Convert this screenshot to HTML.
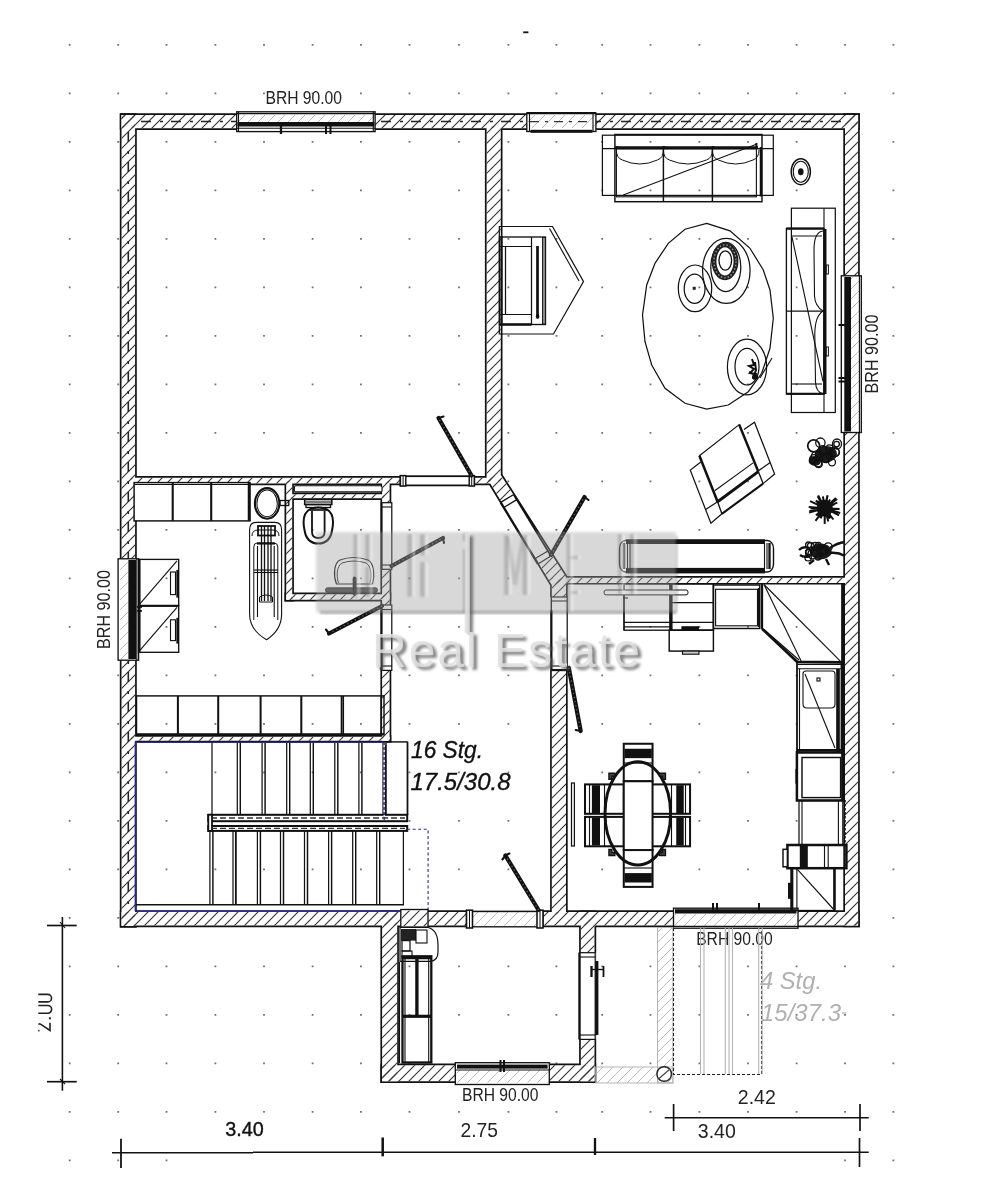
<!DOCTYPE html><html><head><meta charset="utf-8"><style>html,body{margin:0;padding:0;background:#fff;width:997px;height:1200px;overflow:hidden}svg{display:block;filter:blur(0.3px)}text{font-family:"Liberation Sans",sans-serif;filter:grayscale(1)}</style></head><body>
<svg width="997" height="1200" viewBox="0 0 997 1200">
<defs>
<pattern id="h" patternUnits="userSpaceOnUse" width="10" height="10"><path d="M-1,1 L1,-1 M0,10 L10,0 M9,11 L11,9" stroke="#333" stroke-width="1.1"/></pattern>
<pattern id="hl" patternUnits="userSpaceOnUse" width="10" height="10"><path d="M-1,1 L1,-1 M0,10 L10,0 M9,11 L11,9" stroke="#bbb" stroke-width="1"/></pattern>
<filter id="blur1" x="-10%" y="-10%" width="120%" height="140%"><feGaussianBlur stdDeviation="2.5"/></filter>
<filter id="soft" x="-5%" y="-5%" width="110%" height="110%"><feGaussianBlur stdDeviation="0.6"/></filter>
</defs>
<rect width="997" height="1200" fill="#fff"/>
<path d="M68.8,44.8h1.8M68.8,93.3h1.8M68.8,141.8h1.8M68.8,190.3h1.8M68.8,238.8h1.8M68.8,287.3h1.8M68.8,335.8h1.8M68.8,384.3h1.8M68.8,432.8h1.8M68.8,481.3h1.8M68.8,529.8h1.8M68.8,578.3h1.8M68.8,626.8h1.8M68.8,675.3h1.8M68.8,723.8h1.8M68.8,772.3h1.8M68.8,820.8h1.8M68.8,869.3h1.8M68.8,917.8h1.8M68.8,966.3h1.8M68.8,1014.8h1.8M68.8,1063.3h1.8M68.8,1111.8h1.8M68.8,1160.3h1.8M117.3,44.8h1.8M117.3,93.3h1.8M117.3,141.8h1.8M117.3,190.3h1.8M117.3,238.8h1.8M117.3,287.3h1.8M117.3,335.8h1.8M117.3,384.3h1.8M117.3,432.8h1.8M117.3,481.3h1.8M117.3,529.8h1.8M117.3,578.3h1.8M117.3,626.8h1.8M117.3,675.3h1.8M117.3,723.8h1.8M117.3,772.3h1.8M117.3,820.8h1.8M117.3,869.3h1.8M117.3,917.8h1.8M117.3,966.3h1.8M117.3,1014.8h1.8M117.3,1063.3h1.8M117.3,1111.8h1.8M117.3,1160.3h1.8M165.6,44.8h1.8M165.6,93.3h1.8M165.6,141.8h1.8M165.6,190.3h1.8M165.6,238.8h1.8M165.6,287.3h1.8M165.6,335.8h1.8M165.6,384.3h1.8M165.6,432.8h1.8M165.6,481.3h1.8M165.6,529.8h1.8M165.6,578.3h1.8M165.6,626.8h1.8M165.6,675.3h1.8M165.6,723.8h1.8M165.6,772.3h1.8M165.6,820.8h1.8M165.6,869.3h1.8M165.6,917.8h1.8M165.6,966.3h1.8M165.6,1014.8h1.8M165.6,1063.3h1.8M165.6,1111.8h1.8M165.6,1160.3h1.8M214.5,44.8h1.8M214.5,93.3h1.8M214.5,141.8h1.8M214.5,190.3h1.8M214.5,238.8h1.8M214.5,287.3h1.8M214.5,335.8h1.8M214.5,384.3h1.8M214.5,432.8h1.8M214.5,481.3h1.8M214.5,529.8h1.8M214.5,578.3h1.8M214.5,626.8h1.8M214.5,675.3h1.8M214.5,723.8h1.8M214.5,772.3h1.8M214.5,820.8h1.8M214.5,869.3h1.8M214.5,917.8h1.8M214.5,966.3h1.8M214.5,1014.8h1.8M214.5,1063.3h1.8M214.5,1111.8h1.8M263.1,44.8h1.8M263.1,93.3h1.8M263.1,141.8h1.8M263.1,190.3h1.8M263.1,238.8h1.8M263.1,287.3h1.8M263.1,335.8h1.8M263.1,384.3h1.8M263.1,432.8h1.8M263.1,481.3h1.8M263.1,529.8h1.8M263.1,578.3h1.8M263.1,626.8h1.8M263.1,675.3h1.8M263.1,723.8h1.8M263.1,772.3h1.8M263.1,820.8h1.8M263.1,869.3h1.8M263.1,917.8h1.8M263.1,966.3h1.8M263.1,1014.8h1.8M263.1,1063.3h1.8M263.1,1111.8h1.8M311.7,44.8h1.8M311.7,93.3h1.8M311.7,141.8h1.8M311.7,190.3h1.8M311.7,238.8h1.8M311.7,287.3h1.8M311.7,335.8h1.8M311.7,384.3h1.8M311.7,432.8h1.8M311.7,481.3h1.8M311.7,529.8h1.8M311.7,578.3h1.8M311.7,626.8h1.8M311.7,675.3h1.8M311.7,723.8h1.8M311.7,772.3h1.8M311.7,820.8h1.8M311.7,869.3h1.8M311.7,917.8h1.8M311.7,966.3h1.8M311.7,1014.8h1.8M311.7,1063.3h1.8M311.7,1111.8h1.8M360.0,44.8h1.8M360.0,93.3h1.8M360.0,141.8h1.8M360.0,190.3h1.8M360.0,238.8h1.8M360.0,287.3h1.8M360.0,335.8h1.8M360.0,384.3h1.8M360.0,432.8h1.8M360.0,481.3h1.8M360.0,529.8h1.8M360.0,578.3h1.8M360.0,626.8h1.8M360.0,675.3h1.8M360.0,723.8h1.8M360.0,772.3h1.8M360.0,820.8h1.8M360.0,869.3h1.8M360.0,917.8h1.8M360.0,966.3h1.8M360.0,1014.8h1.8M360.0,1063.3h1.8M360.0,1111.8h1.8M408.6,44.8h1.8M408.6,93.3h1.8M408.6,141.8h1.8M408.6,190.3h1.8M408.6,238.8h1.8M408.6,287.3h1.8M408.6,335.8h1.8M408.6,384.3h1.8M408.6,432.8h1.8M408.6,481.3h1.8M408.6,529.8h1.8M408.6,578.3h1.8M408.6,626.8h1.8M408.6,675.3h1.8M408.6,723.8h1.8M408.6,772.3h1.8M408.6,820.8h1.8M408.6,869.3h1.8M408.6,917.8h1.8M408.6,966.3h1.8M408.6,1014.8h1.8M408.6,1063.3h1.8M408.6,1111.8h1.8M458.1,44.8h1.8M458.1,93.3h1.8M458.1,141.8h1.8M458.1,190.3h1.8M458.1,238.8h1.8M458.1,287.3h1.8M458.1,335.8h1.8M458.1,384.3h1.8M458.1,432.8h1.8M458.1,481.3h1.8M458.1,529.8h1.8M458.1,578.3h1.8M458.1,626.8h1.8M458.1,675.3h1.8M458.1,723.8h1.8M458.1,772.3h1.8M458.1,820.8h1.8M458.1,869.3h1.8M458.1,917.8h1.8M458.1,966.3h1.8M458.1,1014.8h1.8M458.1,1063.3h1.8M458.1,1111.8h1.8M507.5,44.8h1.8M507.5,93.3h1.8M507.5,141.8h1.8M507.5,190.3h1.8M507.5,238.8h1.8M507.5,287.3h1.8M507.5,335.8h1.8M507.5,384.3h1.8M507.5,432.8h1.8M507.5,481.3h1.8M507.5,529.8h1.8M507.5,578.3h1.8M507.5,626.8h1.8M507.5,675.3h1.8M507.5,723.8h1.8M507.5,772.3h1.8M507.5,820.8h1.8M507.5,869.3h1.8M507.5,917.8h1.8M507.5,966.3h1.8M507.5,1014.8h1.8M507.5,1063.3h1.8M507.5,1111.8h1.8M555.5,44.8h1.8M555.5,93.3h1.8M555.5,141.8h1.8M555.5,190.3h1.8M555.5,238.8h1.8M555.5,287.3h1.8M555.5,335.8h1.8M555.5,384.3h1.8M555.5,432.8h1.8M555.5,481.3h1.8M555.5,529.8h1.8M555.5,578.3h1.8M555.5,626.8h1.8M555.5,675.3h1.8M555.5,723.8h1.8M555.5,772.3h1.8M555.5,820.8h1.8M555.5,869.3h1.8M555.5,917.8h1.8M555.5,966.3h1.8M555.5,1014.8h1.8M555.5,1063.3h1.8M555.5,1111.8h1.8M601.3,44.8h1.8M601.3,93.3h1.8M601.3,141.8h1.8M601.3,190.3h1.8M601.3,238.8h1.8M601.3,287.3h1.8M601.3,335.8h1.8M601.3,384.3h1.8M601.3,432.8h1.8M601.3,481.3h1.8M601.3,529.8h1.8M601.3,578.3h1.8M601.3,626.8h1.8M601.3,675.3h1.8M601.3,723.8h1.8M601.3,772.3h1.8M601.3,820.8h1.8M601.3,869.3h1.8M601.3,917.8h1.8M601.3,966.3h1.8M601.3,1014.8h1.8M601.3,1063.3h1.8M601.3,1111.8h1.8M649.6,44.8h1.8M649.6,93.3h1.8M649.6,141.8h1.8M649.6,190.3h1.8M649.6,238.8h1.8M649.6,287.3h1.8M649.6,335.8h1.8M649.6,384.3h1.8M649.6,432.8h1.8M649.6,481.3h1.8M649.6,529.8h1.8M649.6,578.3h1.8M649.6,626.8h1.8M649.6,675.3h1.8M649.6,723.8h1.8M649.6,772.3h1.8M649.6,820.8h1.8M649.6,869.3h1.8M649.6,917.8h1.8M649.6,966.3h1.8M649.6,1014.8h1.8M649.6,1063.3h1.8M649.6,1111.8h1.8M698.5,44.8h1.8M698.5,93.3h1.8M698.5,141.8h1.8M698.5,190.3h1.8M698.5,238.8h1.8M698.5,287.3h1.8M698.5,335.8h1.8M698.5,384.3h1.8M698.5,432.8h1.8M698.5,481.3h1.8M698.5,529.8h1.8M698.5,578.3h1.8M698.5,626.8h1.8M698.5,675.3h1.8M698.5,723.8h1.8M698.5,772.3h1.8M698.5,820.8h1.8M698.5,869.3h1.8M698.5,917.8h1.8M698.5,966.3h1.8M698.5,1014.8h1.8M698.5,1063.3h1.8M698.5,1111.8h1.8M747.1,44.8h1.8M747.1,93.3h1.8M747.1,141.8h1.8M747.1,190.3h1.8M747.1,238.8h1.8M747.1,287.3h1.8M747.1,335.8h1.8M747.1,384.3h1.8M747.1,432.8h1.8M747.1,481.3h1.8M747.1,529.8h1.8M747.1,578.3h1.8M747.1,626.8h1.8M747.1,675.3h1.8M747.1,723.8h1.8M747.1,772.3h1.8M747.1,820.8h1.8M747.1,869.3h1.8M747.1,917.8h1.8M747.1,966.3h1.8M747.1,1014.8h1.8M747.1,1063.3h1.8M747.1,1111.8h1.8M795.7,44.8h1.8M795.7,93.3h1.8M795.7,141.8h1.8M795.7,190.3h1.8M795.7,238.8h1.8M795.7,287.3h1.8M795.7,335.8h1.8M795.7,384.3h1.8M795.7,432.8h1.8M795.7,481.3h1.8M795.7,529.8h1.8M795.7,578.3h1.8M795.7,626.8h1.8M795.7,675.3h1.8M795.7,723.8h1.8M795.7,772.3h1.8M795.7,820.8h1.8M795.7,869.3h1.8M795.7,917.8h1.8M795.7,966.3h1.8M795.7,1014.8h1.8M795.7,1063.3h1.8M795.7,1111.8h1.8M844.1,44.8h1.8M844.1,93.3h1.8M844.1,141.8h1.8M844.1,190.3h1.8M844.1,238.8h1.8M844.1,287.3h1.8M844.1,335.8h1.8M844.1,384.3h1.8M844.1,432.8h1.8M844.1,481.3h1.8M844.1,529.8h1.8M844.1,578.3h1.8M844.1,626.8h1.8M844.1,675.3h1.8M844.1,723.8h1.8M844.1,772.3h1.8M844.1,820.8h1.8M844.1,869.3h1.8M844.1,917.8h1.8M844.1,966.3h1.8M844.1,1014.8h1.8M844.1,1063.3h1.8M844.1,1111.8h1.8M844.1,1160.3h1.8M892.5,44.8h1.8M892.5,93.3h1.8M892.5,141.8h1.8M892.5,190.3h1.8M892.5,238.8h1.8M892.5,287.3h1.8M892.5,335.8h1.8M892.5,384.3h1.8M892.5,432.8h1.8M892.5,481.3h1.8M892.5,529.8h1.8M892.5,578.3h1.8M892.5,626.8h1.8M892.5,675.3h1.8M892.5,723.8h1.8M892.5,772.3h1.8M892.5,820.8h1.8M892.5,869.3h1.8M892.5,917.8h1.8M892.5,966.3h1.8M892.5,1014.8h1.8M892.5,1063.3h1.8M892.5,1111.8h1.8M892.5,1160.3h1.8" stroke="#707070" stroke-width="1.8"/>
<g fill="none" stroke="#111" stroke-width="3.4" stroke-linejoin="miter">
<polygon points="121.5,115.0 858.1,115.0 858.1,128.2 121.5,128.2"/>
<polygon points="121.5,115.0 135.1,115.0 135.1,926.0 121.5,926.0"/>
<polygon points="845.0,115.0 858.1,115.0 858.1,925.5 845.0,925.5"/>
<polygon points="121.5,912.0 858.1,912.0 858.1,925.5 121.5,925.5"/>
<polygon points="382.1,912.2 397.2,912.2 397.2,1081.2 382.1,1081.2"/>
<polygon points="580.8,912.2 594.5,912.2 594.5,1081.2 580.8,1081.2"/>
<polygon points="382.1,1065.2 594.5,1065.2 594.5,1081.2 382.1,1081.2"/>
<polygon points="486.6,125.8 500.8,125.8 500.8,481.2 486.6,481.2"/>
<polygon points="130.8,477.8 491.2,477.8 491.2,483.6 130.8,483.6"/>
<polygon points="490.3,483.6 486.6,478.0 500.8,475.0 566.3,577.4 566.3,583.8 551.5,584.5"/>
<polygon points="551.8,577.8 849.2,577.8 849.2,582.9 551.8,582.9"/>
<polygon points="551.8,578.8 566.0,578.8 566.0,914.2 551.8,914.2"/>
<polygon points="286.2,480.8 292.2,480.8 292.2,599.8 286.2,599.8"/>
<polygon points="286.2,594.2 389.6,594.2 389.6,599.8 286.2,599.8"/>
<polygon points="290.8,494.2 384.2,494.2 384.2,498.2 290.8,498.2"/>
<polygon points="382.1,480.8 389.6,480.8 389.6,740.8 382.1,740.8"/>
<polygon points="130.8,736.8 389.6,736.8 389.6,740.8 130.8,740.8"/>
</g>
<g fill="#fff">
<polygon points="121.5,115.0 858.1,115.0 858.1,128.2 121.5,128.2"/>
<polygon points="121.5,115.0 135.1,115.0 135.1,926.0 121.5,926.0"/>
<polygon points="845.0,115.0 858.1,115.0 858.1,925.5 845.0,925.5"/>
<polygon points="121.5,912.0 858.1,912.0 858.1,925.5 121.5,925.5"/>
<polygon points="382.1,912.2 397.2,912.2 397.2,1081.2 382.1,1081.2"/>
<polygon points="580.8,912.2 594.5,912.2 594.5,1081.2 580.8,1081.2"/>
<polygon points="382.1,1065.2 594.5,1065.2 594.5,1081.2 382.1,1081.2"/>
<polygon points="486.6,125.8 500.8,125.8 500.8,481.2 486.6,481.2"/>
<polygon points="130.8,477.8 491.2,477.8 491.2,483.6 130.8,483.6"/>
<polygon points="490.3,483.6 486.6,478.0 500.8,475.0 566.3,577.4 566.3,583.8 551.5,584.5"/>
<polygon points="551.8,577.8 849.2,577.8 849.2,582.9 551.8,582.9"/>
<polygon points="551.8,578.8 566.0,578.8 566.0,914.2 551.8,914.2"/>
<polygon points="286.2,480.8 292.2,480.8 292.2,599.8 286.2,599.8"/>
<polygon points="286.2,594.2 389.6,594.2 389.6,599.8 286.2,599.8"/>
<polygon points="290.8,494.2 384.2,494.2 384.2,498.2 290.8,498.2"/>
<polygon points="382.1,480.8 389.6,480.8 389.6,740.8 382.1,740.8"/>
<polygon points="130.8,736.8 389.6,736.8 389.6,740.8 130.8,740.8"/>
</g>
<g fill="url(#h)">
<polygon points="121.5,115.0 858.1,115.0 858.1,128.2 121.5,128.2"/>
<polygon points="121.5,115.0 135.1,115.0 135.1,926.0 121.5,926.0"/>
<polygon points="845.0,115.0 858.1,115.0 858.1,925.5 845.0,925.5"/>
<polygon points="121.5,912.0 858.1,912.0 858.1,925.5 121.5,925.5"/>
<polygon points="382.1,912.2 397.2,912.2 397.2,1081.2 382.1,1081.2"/>
<polygon points="580.8,912.2 594.5,912.2 594.5,1081.2 580.8,1081.2"/>
<polygon points="382.1,1065.2 594.5,1065.2 594.5,1081.2 382.1,1081.2"/>
<polygon points="486.6,125.8 500.8,125.8 500.8,481.2 486.6,481.2"/>
<polygon points="130.8,477.8 491.2,477.8 491.2,483.6 130.8,483.6"/>
<polygon points="490.3,483.6 486.6,478.0 500.8,475.0 566.3,577.4 566.3,583.8 551.5,584.5"/>
<polygon points="551.8,577.8 849.2,577.8 849.2,582.9 551.8,582.9"/>
<polygon points="551.8,578.8 566.0,578.8 566.0,914.2 551.8,914.2"/>
<polygon points="286.2,480.8 292.2,480.8 292.2,599.8 286.2,599.8"/>
<polygon points="286.2,594.2 389.6,594.2 389.6,599.8 286.2,599.8"/>
<polygon points="290.8,494.2 384.2,494.2 384.2,498.2 290.8,498.2"/>
<polygon points="382.1,480.8 389.6,480.8 389.6,740.8 382.1,740.8"/>
<polygon points="130.8,736.8 389.6,736.8 389.6,740.8 130.8,740.8"/>
</g>
<line x1="137" y1="121.6" x2="843" y2="121.6" stroke="#222" stroke-width="1.46" stroke-dasharray="10 9 3 8" stroke-dashoffset="-4"/>
<line x1="128.3" y1="130" x2="128.3" y2="910" stroke="#222" stroke-width="1.57" stroke-dasharray="10 9 3 8" stroke-dashoffset="-2"/>
<rect x="236.7" y="111" width="138.40000000000003" height="22" fill="#fff"/>
<rect x="237" y="115" width="137.6" height="7" fill="url(#hl)"/>
<rect x="236.7" y="111.8" width="138.4" height="19.8" stroke="#111" stroke-width="1.34" fill="none" />
<line x1="236.7" y1="113.6" x2="375.1" y2="113.6" stroke="#111" stroke-width="1.34" />
<rect x="237.5" y="122" width="136.8" height="4.5" stroke="#111" stroke-width="0" fill="#111" />
<line x1="236.7" y1="128.2" x2="375.1" y2="128.2" stroke="#111" stroke-width="1.01" />
<line x1="281" y1="125" x2="281" y2="134" stroke="#111" stroke-width="2.31" />
<line x1="326" y1="125" x2="326" y2="134" stroke="#111" stroke-width="2.02" />
<line x1="330.5" y1="125" x2="330.5" y2="134" stroke="#111" stroke-width="2.02" />
<line x1="238.5" y1="111.8" x2="238.5" y2="131.6" stroke="#111" stroke-width="1.12" />
<line x1="373.3" y1="111.8" x2="373.3" y2="131.6" stroke="#111" stroke-width="1.12" />
<text x="265.5" y="103.7" font-size="18" fill="#222" text-anchor="start" textLength="76.5" lengthAdjust="spacingAndGlyphs">BRH 90.00</text>
<rect x="526.8" y="111" width="69.10000000000002" height="23" fill="#fff"/>
<rect x="528" y="115" width="67" height="13" fill="url(#hl)"/>
<rect x="526.8" y="113" width="69.1" height="18.5" stroke="#111" stroke-width="1.34" fill="none" />
<line x1="526.8" y1="113.2" x2="595.9" y2="113.2" stroke="#111" stroke-width="2.31" />
<line x1="530" y1="121.6" x2="593" y2="121.6" stroke="#333" stroke-width="1.34" stroke-dasharray="9 6 3 6"/>
<rect x="530.6" y="129.8" width="61.7" height="3.0" stroke="#111" stroke-width="0" fill="#111" />
<line x1="529.5" y1="113" x2="529.5" y2="131.5" stroke="#111" stroke-width="1.12" />
<line x1="593" y1="113" x2="593" y2="131.5" stroke="#111" stroke-width="1.12" />
<rect x="839" y="275.8" width="23" height="156.7" fill="#fff"/>
<rect x="851" y="277" width="8" height="154" fill="url(#hl)"/>
<rect x="841.3" y="275.8" width="20.0" height="156.7" stroke="#111" stroke-width="1.34" fill="none" />
<rect x="844.3" y="277" width="6.7" height="154.5" stroke="#111" stroke-width="0" fill="#111" />
<line x1="859.4" y1="275.8" x2="859.4" y2="432.5" stroke="#111" stroke-width="1.12" />
<line x1="838.5" y1="325" x2="845" y2="325" stroke="#111" stroke-width="2.1" />
<line x1="838.5" y1="378" x2="845" y2="378" stroke="#111" stroke-width="2.02" />
<line x1="838.5" y1="381.5" x2="845" y2="381.5" stroke="#111" stroke-width="2.02" />
<text font-size="18" fill="#222" transform="translate(878.3,393.5) rotate(-90)" textLength="79" lengthAdjust="spacingAndGlyphs">BRH 90.00</text>
<rect x="117" y="558.8" width="23" height="101.40000000000009" fill="#fff"/>
<rect x="120" y="560" width="8.4" height="99" fill="url(#hl)"/>
<rect x="118.1" y="558.8" width="20.5" height="101.4" stroke="#111" stroke-width="1.34" fill="none" />
<rect x="128.4" y="560" width="7.6" height="99.0" stroke="#111" stroke-width="0" fill="#111" />
<line x1="136.8" y1="558.8" x2="136.8" y2="660.2" stroke="#111" stroke-width="1.12" />
<line x1="137" y1="607" x2="142" y2="607" stroke="#111" stroke-width="1.68" />
<line x1="137" y1="611" x2="142" y2="611" stroke="#111" stroke-width="1.68" />
<text font-size="18" fill="#222" transform="translate(109.6,649) rotate(-90)" textLength="79" lengthAdjust="spacingAndGlyphs">BRH 90.00</text>
<rect x="673.5" y="906" width="124.5" height="24" fill="#fff"/>
<rect x="675" y="914" width="122" height="12" fill="url(#hl)"/>
<rect x="673.5" y="908.2" width="124.5" height="20.0" stroke="#111" stroke-width="1.34" fill="none" />
<rect x="675" y="909.2" width="121.5" height="4.3" stroke="#111" stroke-width="0" fill="#111" />
<line x1="673.5" y1="926.4" x2="798" y2="926.4" stroke="#111" stroke-width="1.12" />
<line x1="713" y1="903" x2="713" y2="911" stroke="#111" stroke-width="2.02" />
<line x1="717" y1="903" x2="717" y2="911" stroke="#111" stroke-width="2.02" />
<line x1="759" y1="903" x2="759" y2="911" stroke="#111" stroke-width="2.02" />
<text x="696.2" y="945" font-size="18" fill="#222" text-anchor="start" textLength="76.5" lengthAdjust="spacingAndGlyphs">BRH 90.00</text>
<rect x="455.3" y="1061" width="93.99999999999994" height="25" fill="#fff"/>
<rect x="456.5" y="1070" width="92" height="12.5" fill="url(#hl)"/>
<rect x="455.3" y="1062.7" width="94.0" height="21.8" stroke="#111" stroke-width="1.34" fill="none" />
<rect x="457" y="1064.6" width="90.6" height="4.0" stroke="#111" stroke-width="0" fill="#111" />
<line x1="455.3" y1="1070" x2="549.3" y2="1070" stroke="#111" stroke-width="1.01" />
<line x1="500.5" y1="1060" x2="500.5" y2="1072" stroke="#111" stroke-width="2.02" />
<line x1="504" y1="1060" x2="504" y2="1072" stroke="#111" stroke-width="2.02" />
<text x="462" y="1101" font-size="18" fill="#222" text-anchor="start" textLength="76.5" lengthAdjust="spacingAndGlyphs">BRH 90.00</text>
<rect x="400.4" y="475" width="73.90000000000003" height="11.5" fill="#fff"/>
<rect x="400.4" y="476.2" width="73.9" height="9.2" stroke="#111" stroke-width="1.79" fill="none" />
<rect x="400.4" y="475.6" width="5.4" height="10.4" stroke="#111" stroke-width="1.46" fill="#fff" />
<line x1="403.1" y1="475.6" x2="403.1" y2="486" stroke="#111" stroke-width="1.01" />
<rect x="469.2" y="475.6" width="5.1" height="10.4" stroke="#111" stroke-width="1.46" fill="#fff" />
<line x1="471.7" y1="475.6" x2="471.7" y2="486" stroke="#111" stroke-width="1.01" />
<line x1="471.5" y1="475.5" x2="438.5" y2="418" stroke="#111" stroke-width="4.2" stroke-linecap="round"/>
<line x1="471.5" y1="475.5" x2="438.5" y2="418" stroke="#666" stroke-width="1.34" stroke-dasharray="1.2 3"/>
<line x1="438.5" y1="418" x2="443.5" y2="416.5" stroke="#111" stroke-width="2.1" stroke-linecap="round"/>
<polygon points="500.7,502.4 538.0,563.9 551.0,556.0 513.7,494.5" stroke="#111" stroke-width="0" fill="#fff" />
<polyline points="500.2,501.5 538.5,564.8" stroke="#111" stroke-width="0" fill="none" />
<line x1="500.678" y1="502.35499999999996" x2="537.974" y2="563.915" stroke="#111" stroke-width="2.31" />
<line x1="513.674" y1="494.48139999999995" x2="550.97" y2="556.0414" stroke="#111" stroke-width="1.79" />
<line x1="500.678" y1="502.35499999999996" x2="513.674" y2="494.48139999999995" stroke="#111" stroke-width="1.23" />
<line x1="503.786" y1="507.48499999999996" x2="516.782" y2="499.61139999999995" stroke="#111" stroke-width="1.23" />
<line x1="534.866" y1="558.785" x2="547.862" y2="550.9114" stroke="#111" stroke-width="1.23" />
<line x1="537.974" y1="563.915" x2="550.97" y2="556.0414" stroke="#111" stroke-width="1.23" />
<line x1="550.97" y1="555.0414" x2="584.5" y2="497" stroke="#111" stroke-width="4.2" stroke-linecap="round"/>
<line x1="550.97" y1="555.0414" x2="584.5" y2="497" stroke="#666" stroke-width="1.34" stroke-dasharray="1.2 3"/>
<line x1="584.5" y1="497" x2="588.5" y2="500" stroke="#111" stroke-width="2.1" stroke-linecap="round"/>
<rect x="380.5" y="502.7" width="12.5" height="66.59999999999997" fill="#fff"/>
<rect x="381.5" y="502.7" width="10.3" height="66.6" stroke="#111" stroke-width="1.23" fill="none" />
<line x1="381.5" y1="502.7" x2="381.5" y2="569.3" stroke="#111" stroke-width="2.1" />
<line x1="381.5" y1="507" x2="391.8" y2="507" stroke="#111" stroke-width="1.12" />
<line x1="381.5" y1="565" x2="391.8" y2="565" stroke="#111" stroke-width="1.12" />
<line x1="391.5" y1="566" x2="443" y2="538" stroke="#111" stroke-width="4.2" stroke-linecap="round"/>
<line x1="391.5" y1="566" x2="443" y2="538" stroke="#666" stroke-width="1.34" stroke-dasharray="1.2 3"/>
<line x1="443" y1="538" x2="444" y2="543" stroke="#111" stroke-width="2.1" stroke-linecap="round"/>
<rect x="380.5" y="605" width="12.5" height="65.39999999999998" fill="#fff"/>
<rect x="381.5" y="605" width="10.3" height="65.4" stroke="#111" stroke-width="1.23" fill="none" />
<line x1="381.5" y1="605" x2="381.5" y2="670.4" stroke="#111" stroke-width="2.1" />
<line x1="381.5" y1="609.5" x2="391.8" y2="609.5" stroke="#111" stroke-width="1.12" />
<line x1="381.5" y1="666" x2="391.8" y2="666" stroke="#111" stroke-width="1.12" />
<line x1="382" y1="606" x2="329" y2="633.5" stroke="#111" stroke-width="4.2" stroke-linecap="round"/>
<line x1="382" y1="606" x2="329" y2="633.5" stroke="#666" stroke-width="1.34" stroke-dasharray="1.2 3"/>
<line x1="329" y1="633.5" x2="326" y2="629.5" stroke="#111" stroke-width="2.1" stroke-linecap="round"/>
<rect x="550.3" y="597" width="17.700000000000045" height="73.5" fill="#fff"/>
<rect x="551.4" y="597" width="15.8" height="73.5" stroke="#111" stroke-width="1.23" fill="none" />
<line x1="551.4" y1="610" x2="551.4" y2="670.5" stroke="#111" stroke-width="2.1" />
<line x1="551.4" y1="601" x2="567.2" y2="601" stroke="#111" stroke-width="1.12" />
<line x1="551.4" y1="666" x2="567.2" y2="666" stroke="#111" stroke-width="1.12" />
<line x1="551.4" y1="670" x2="567.2" y2="670" stroke="#111" stroke-width="2.1" />
<line x1="568.8" y1="668" x2="580.7" y2="731" stroke="#111" stroke-width="4.2" stroke-linecap="round"/>
<line x1="568.8" y1="668" x2="580.7" y2="731" stroke="#666" stroke-width="1.34" stroke-dasharray="1.2 3"/>
<line x1="580.7" y1="731" x2="575.7" y2="730" stroke="#111" stroke-width="2.1" stroke-linecap="round"/>
<rect x="466.5" y="910.3" width="76.5" height="17.700000000000045" fill="#fff"/>
<rect x="467" y="912" width="76" height="14.5" fill="url(#hl)"/>
<rect x="466.5" y="911.5" width="76.5" height="15.3" stroke="#111" stroke-width="1.34" fill="none" />
<rect x="466.5" y="910.2" width="6.0" height="17.8" stroke="#111" stroke-width="1.57" fill="#fff" />
<line x1="469.5" y1="910.2" x2="469.5" y2="928" stroke="#111" stroke-width="1.01" />
<rect x="537" y="910.2" width="6.0" height="17.8" stroke="#111" stroke-width="1.57" fill="#fff" />
<line x1="540" y1="910.2" x2="540" y2="928" stroke="#111" stroke-width="1.01" />
<line x1="538.5" y1="910" x2="505.4" y2="855.5" stroke="#111" stroke-width="4.2" stroke-linecap="round"/>
<line x1="538.5" y1="910" x2="505.4" y2="855.5" stroke="#666" stroke-width="1.34" stroke-dasharray="1.2 3"/>
<line x1="505.4" y1="855.5" x2="502.4" y2="859.5" stroke="#111" stroke-width="2.1" stroke-linecap="round"/>
<line x1="505.4" y1="855.5" x2="509.4" y2="853.5" stroke="#111" stroke-width="2.1" stroke-linecap="round"/>
<rect x="578.5" y="952.7" width="18.0" height="86.70000000000005" fill="#fff"/>
<rect x="579.5" y="952.7" width="15.7" height="86.7" stroke="#111" stroke-width="1.23" fill="none" />
<line x1="579.5" y1="952.7" x2="579.5" y2="1039.4" stroke="#111" stroke-width="2.31" />
<line x1="579.5" y1="957" x2="595.2" y2="957" stroke="#111" stroke-width="1.12" />
<line x1="579.5" y1="1035" x2="595.2" y2="1035" stroke="#111" stroke-width="1.12" />
<rect x="595.2" y="961" width="3.2" height="74.0" stroke="#111" stroke-width="0" fill="#111" />
<line x1="591.5" y1="966" x2="591.5" y2="977" stroke="#111" stroke-width="2.31" />
<line x1="603.5" y1="966" x2="603.5" y2="977" stroke="#111" stroke-width="1.79" />
<line x1="591.5" y1="969.5" x2="604" y2="969.5" stroke="#111" stroke-width="1.34" />
<rect x="602.4" y="135.2" width="170.9" height="60.2" stroke="#111" stroke-width="1.23" fill="none" />
<line x1="602.4" y1="148.7" x2="773.3" y2="148.7" stroke="#111" stroke-width="1.23" />
<rect x="614.9" y="134.5" width="147.1" height="67.2" stroke="#111" stroke-width="1.46" fill="none" />
<rect x="616.4" y="148.7" width="140.0" height="48.1" stroke="#111" stroke-width="1.12" fill="none" />
<line x1="614.9" y1="148.7" x2="762" y2="148.7" stroke="#111" stroke-width="1.12" />
<line x1="663.4" y1="148.7" x2="663.4" y2="201.7" stroke="#111" stroke-width="1.46" />
<line x1="712.4" y1="148.7" x2="712.4" y2="201.7" stroke="#111" stroke-width="1.46" />
<line x1="616" y1="147.4" x2="758" y2="147.4" stroke="#111" stroke-width="2.52" />
<path d="M616.4,150 Q616.4,158 622.4,160 Q639.9,168 657.4,160 Q663.4,158 663.4,150" stroke="#111" stroke-width="1" fill="none"/>
<path d="M663.4,150 Q663.4,158 669.4,160 Q687.9,168 706.4,160 Q712.4,158 712.4,150" stroke="#111" stroke-width="1" fill="none"/>
<path d="M712.4,150 Q712.4,158 718.4,160 Q735.7,168 753,160 Q759,158 759,150" stroke="#111" stroke-width="1" fill="none"/>
<ellipse cx="616.9" cy="147.6" rx="2.2" ry="1.6" stroke="#111" stroke-width="0" fill="#111" />
<ellipse cx="663.9" cy="147.6" rx="2.2" ry="1.6" stroke="#111" stroke-width="0" fill="#111" />
<ellipse cx="712.9" cy="147.6" rx="2.2" ry="1.6" stroke="#111" stroke-width="0" fill="#111" />
<line x1="623.2" y1="195" x2="756.4" y2="144.2" stroke="#111" stroke-width="1.12" />
<line x1="760.9" y1="147" x2="760.9" y2="196.5" stroke="#111" stroke-width="2.31" />
<line x1="756.4" y1="143" x2="756.4" y2="148" stroke="#111" stroke-width="2.1" />
<ellipse cx="800.8" cy="171.7" rx="9.6" ry="13" stroke="#111" stroke-width="1.46" fill="none" />
<ellipse cx="800.8" cy="171.7" rx="7.5" ry="10.5" stroke="#111" stroke-width="1.12" fill="none" />
<ellipse cx="800.8" cy="171.7" rx="2.8" ry="3.5" stroke="#111" stroke-width="0" fill="#111" />
<rect x="791.4" y="208.2" width="43.9" height="204.3" stroke="#111" stroke-width="1.23" fill="none" />
<line x1="824" y1="208.2" x2="824" y2="412.5" stroke="#111" stroke-width="1.12" />
<rect x="786.4" y="228.4" width="37.6" height="165.7" stroke="#111" stroke-width="1.34" fill="none" />
<line x1="786.4" y1="228.6" x2="824" y2="228.6" stroke="#111" stroke-width="2.31" />
<line x1="786.4" y1="393.8" x2="824" y2="393.8" stroke="#111" stroke-width="2.1" />
<line x1="786.4" y1="311.2" x2="824" y2="311.2" stroke="#111" stroke-width="1.23" />
<line x1="791.9" y1="236" x2="822" y2="236" stroke="#111" stroke-width="1.01" />
<line x1="791.9" y1="384" x2="822" y2="384" stroke="#111" stroke-width="1.12" />
<line x1="824.9" y1="229" x2="824.9" y2="394" stroke="#111" stroke-width="3.15" />
<path d="M823,231 Q814,232 814,250 L814.5,296 Q815,306 823,311 Q815,316 814.8,334 L815.5,382 Q816,392 822.5,393.5" stroke="#111" stroke-width="1.1" fill="none"/>
<line x1="791.9" y1="236.6" x2="823" y2="381.3" stroke="#111" stroke-width="1.12" />
<rect x="826.2" y="265" width="2.2" height="9.0" stroke="#111" stroke-width="1.01" fill="none" />
<rect x="826.2" y="347" width="2.2" height="9.0" stroke="#111" stroke-width="1.01" fill="none" />
<polygon points="499.3,226.5 552.5,226.5 583.5,281.5 553.5,334.0 499.3,334.0" stroke="#111" stroke-width="1.23" fill="none" />
<line x1="549.5" y1="228.5" x2="579" y2="281" stroke="#111" stroke-width="1.12" />
<rect x="499.5" y="237" width="46.0" height="87.5" stroke="#111" stroke-width="1.34" fill="none" />
<line x1="531.5" y1="237" x2="531.5" y2="324.5" stroke="#111" stroke-width="1.23" />
<line x1="499.5" y1="246.5" x2="531.5" y2="246.5" stroke="#111" stroke-width="1.23" />
<line x1="499.5" y1="314.5" x2="531.5" y2="314.5" stroke="#111" stroke-width="1.23" />
<line x1="505.5" y1="246.5" x2="505.5" y2="314.5" stroke="#111" stroke-width="1.23" />
<rect x="542.5" y="237.5" width="3.0" height="86.5" stroke="#111" stroke-width="0.9" fill="#888" />
<line x1="537.5" y1="246" x2="537.5" y2="316" stroke="#111" stroke-width="2.73" />
<ellipse cx="537.6" cy="316.5" rx="1.8" ry="2.4" stroke="#111" stroke-width="0" fill="#111" />
<line x1="499.5" y1="324.5" x2="531.5" y2="324.5" stroke="#111" stroke-width="2.31" />
<line x1="501.5" y1="236" x2="501.5" y2="326" stroke="#111" stroke-width="2.02" />
<polygon points="706.7,223.3 730.0,230.8 750.0,248.3 763.3,270.0 770.0,290.0 773.3,318.3 770.0,348.3 761.7,373.3 748.3,391.7 728.3,405.0 706.7,409.2 685.0,403.3 665.0,388.3 651.7,365.0 645.0,341.7 642.5,315.0 646.7,285.0 655.0,263.3 668.3,243.3 685.0,229.2" stroke="#111" stroke-width="1.23" fill="none" />
<ellipse cx="695" cy="288.3" rx="16.7" ry="23.3" stroke="#111" stroke-width="1.23" fill="none" />
<ellipse cx="694.6" cy="288.8" rx="10.4" ry="14.6" stroke="#111" stroke-width="1.23" fill="none" />
<rect x="692.7" y="286.8" width="3.0" height="3.0" stroke="#111" stroke-width="0" fill="#222" />
<ellipse cx="726.3" cy="270.8" rx="23.75" ry="32.5" stroke="#111" stroke-width="1.23" fill="none" />
<ellipse cx="725.8" cy="267" rx="15" ry="24.6" stroke="#111" stroke-width="1.23" fill="none" />
<ellipse cx="725" cy="261.3" rx="11" ry="16.5" stroke="#222" stroke-width="4.83" fill="none" />
<ellipse cx="725" cy="261.3" rx="11" ry="16.5" stroke="#999" stroke-width="1.34" fill="none" stroke-dasharray="1.5 2"/>
<ellipse cx="725.3" cy="260.5" rx="6.3" ry="9.6" stroke="#111" stroke-width="1.34" fill="none" />
<ellipse cx="747" cy="367" rx="19.6" ry="27.9" stroke="#111" stroke-width="1.23" fill="none" />
<ellipse cx="747" cy="366.7" rx="12" ry="18.3" stroke="#111" stroke-width="1.23" fill="none" />
<path d="M752,359 l2,6 l-5,1 l5,3 l-4,4 l6,1 l-3,5 M755,362 l1,8 l-2,6 M749,372 l4,2" stroke="#111" stroke-width="2" fill="none"/>
<ellipse cx="755" cy="377" rx="3" ry="2.8" stroke="#111" stroke-width="0" fill="#111" />
<line x1="760" y1="378" x2="772" y2="358" stroke="#111" stroke-width="1.12" />
<polyline points="700.8,462.0 690.3,470.1 710.9,523.3 721.9,513.8" stroke="#111" stroke-width="1.23" fill="none" />
<line x1="705.6" y1="509.4" x2="717.6" y2="501.8" stroke="#111" stroke-width="1.23" />
<polyline points="717.6,501.8 699.4,455.7 739.2,424.6 758.3,471.6" stroke="#111" stroke-width="1.12" fill="none" />
<line x1="699.4" y1="455.7" x2="717.6" y2="501.8" stroke="#111" stroke-width="2.52" />
<line x1="739.2" y1="424.6" x2="758.3" y2="471.6" stroke="#111" stroke-width="2.52" />
<line x1="717.6" y1="501.8" x2="721.9" y2="513.8" stroke="#111" stroke-width="1.34" />
<line x1="758.3" y1="471.6" x2="763.1" y2="483.6" stroke="#111" stroke-width="1.34" />
<line x1="714.7" y1="490.7" x2="753.1" y2="462.9" stroke="#111" stroke-width="1.12" />
<line x1="717.6" y1="501.8" x2="758.3" y2="471.6" stroke="#111" stroke-width="2.94" />
<line x1="721.9" y1="513.8" x2="763.1" y2="483.6" stroke="#111" stroke-width="2.1" />
<polyline points="744.0,429.4 754.5,422.2 774.6,474.0 763.1,483.6" stroke="#111" stroke-width="1.23" fill="none" />
<line x1="758.8" y1="470.6" x2="770.3" y2="462.5" stroke="#111" stroke-width="1.23" />
<ellipse cx="826" cy="454" rx="11" ry="8" stroke="#111" stroke-width="0" fill="#1a1a1a" />
<ellipse cx="815" cy="461" rx="6" ry="5" stroke="#111" stroke-width="0" fill="#1a1a1a" />
<circle cx="818.7" cy="454.0" r="3.4" stroke="#111" stroke-width="1.3" fill="none"/>
<circle cx="828.9" cy="455.8" r="2.7" stroke="#111" stroke-width="1.3" fill="none"/>
<circle cx="812.4" cy="460.4" r="3.1" stroke="#111" stroke-width="1.3" fill="none"/>
<circle cx="818.6" cy="463.9" r="3.7" stroke="#111" stroke-width="1.3" fill="none"/>
<circle cx="835.4" cy="452.5" r="4.1" stroke="#111" stroke-width="1.3" fill="none"/>
<circle cx="816.2" cy="456.0" r="4.7" stroke="#111" stroke-width="1.3" fill="none"/>
<circle cx="826.6" cy="458.3" r="4.2" stroke="#111" stroke-width="1.3" fill="none"/>
<circle cx="813.8" cy="458.7" r="4.0" stroke="#111" stroke-width="1.3" fill="none"/>
<circle cx="820.4" cy="442.7" r="4.7" stroke="#111" stroke-width="1.3" fill="none"/>
<circle cx="825.2" cy="457.8" r="4.7" stroke="#111" stroke-width="1.3" fill="none"/>
<circle cx="832.0" cy="462.3" r="3.5" stroke="#111" stroke-width="1.3" fill="none"/>
<circle cx="834.4" cy="451.8" r="4.8" stroke="#111" stroke-width="1.3" fill="none"/>
<circle cx="836.6" cy="444.1" r="2.8" stroke="#111" stroke-width="1.3" fill="none"/>
<circle cx="818.1" cy="463.2" r="3.6" stroke="#111" stroke-width="1.3" fill="none"/>
<circle cx="829.5" cy="448.6" r="3.8" stroke="#111" stroke-width="1.3" fill="none"/>
<circle cx="822.8" cy="449.7" r="4.0" stroke="#111" stroke-width="1.3" fill="none"/>
<ellipse cx="813.7" cy="445.8" rx="6" ry="6" stroke="#111" stroke-width="1.79" fill="none" />
<ellipse cx="837" cy="444" rx="4.5" ry="5" stroke="#111" stroke-width="1.34" fill="none" />
<path d="M824.8,508.2 L839.6,508.9 M824.8,508.2 L840.2,513.0 M824.8,508.2 L839.1,515.4 M824.8,508.2 L836.9,512.8 M824.8,508.2 L833.4,519.5 M824.8,508.2 L829.8,517.6 M824.8,508.2 L830.1,518.5 M824.8,508.2 L828.3,521.4 M824.8,508.2 L828.0,519.1 M824.8,508.2 L824.7,524.1 M824.8,508.2 L820.7,518.4 M824.8,508.2 L818.9,517.2 M824.8,508.2 L817.9,516.5 M824.8,508.2 L815.5,520.8 M824.8,508.2 L815.9,515.2 M824.8,508.2 L809.4,511.0 M824.8,508.2 L809.1,512.5 M824.8,508.2 L810.4,508.0 M824.8,508.2 L808.7,507.1 M824.8,508.2 L810.1,501.2 M824.8,508.2 L815.8,500.4 M824.8,508.2 L816.3,501.3 M824.8,508.2 L817.5,500.9 M824.8,508.2 L817.6,496.3 M824.8,508.2 L818.2,495.4 M824.8,508.2 L822.9,496.4 M824.8,508.2 L827.7,495.4 M824.8,508.2 L827.4,495.4 M824.8,508.2 L830.1,499.4 M824.8,508.2 L832.3,501.5 M824.8,508.2 L837.2,499.0 M824.8,508.2 L835.9,497.9 M824.8,508.2 L837.3,502.6 M824.8,508.2 L834.3,504.4 " stroke="#111" stroke-width="2.0" fill="none"/>
<ellipse cx="824.8" cy="508.2" rx="8" ry="8.5" stroke="#111" stroke-width="0" fill="#111" />
<ellipse cx="820.7" cy="551.4" rx="11" ry="8" stroke="#111" stroke-width="0" fill="#1a1a1a" />
<circle cx="815.4" cy="546.4" r="4.1" stroke="#111" stroke-width="1.3" fill="none"/>
<circle cx="808.9" cy="552.6" r="3.4" stroke="#111" stroke-width="1.3" fill="none"/>
<circle cx="808.5" cy="552.1" r="2.6" stroke="#111" stroke-width="1.3" fill="none"/>
<circle cx="818.3" cy="545.1" r="2.7" stroke="#111" stroke-width="1.3" fill="none"/>
<circle cx="818.0" cy="557.2" r="2.8" stroke="#111" stroke-width="1.3" fill="none"/>
<circle cx="812.8" cy="554.0" r="4.9" stroke="#111" stroke-width="1.3" fill="none"/>
<circle cx="822.0" cy="550.3" r="4.9" stroke="#111" stroke-width="1.3" fill="none"/>
<circle cx="808.2" cy="557.7" r="3.2" stroke="#111" stroke-width="1.3" fill="none"/>
<circle cx="810.8" cy="545.9" r="3.3" stroke="#111" stroke-width="1.3" fill="none"/>
<circle cx="828.2" cy="546.9" r="4.0" stroke="#111" stroke-width="1.3" fill="none"/>
<circle cx="823.6" cy="550.0" r="3.9" stroke="#111" stroke-width="1.3" fill="none"/>
<circle cx="808.6" cy="545.0" r="3.0" stroke="#111" stroke-width="1.3" fill="none"/>
<circle cx="824.7" cy="550.8" r="3.3" stroke="#111" stroke-width="1.3" fill="none"/>
<circle cx="822.2" cy="551.3" r="3.2" stroke="#111" stroke-width="1.3" fill="none"/>
<path d="M830,548 Q837,543 845,542 M830,553 Q838,552 845,556 M809,548 Q803,546 799,550 M810,556 Q804,558 800,555 M814,560 L809,564 M826,559 L829,565" stroke="#111" stroke-width="2.4" fill="none"/>
<rect x="619.5" y="540.5" width="154" height="31.5" rx="6" ry="8" stroke="#111" stroke-width="1.4" fill="#fff"/>
<rect x="626" y="539.3" width="139.0" height="4.7" stroke="#111" stroke-width="0" fill="#111" />
<rect x="626" y="567.9" width="139.0" height="5.5" stroke="#111" stroke-width="0" fill="#111" />
<line x1="624" y1="543" x2="624" y2="569" stroke="#111" stroke-width="2.52" />
<line x1="627.5" y1="543" x2="627.5" y2="569" stroke="#111" stroke-width="1.12" />
<line x1="630" y1="543" x2="630" y2="569" stroke="#111" stroke-width="1.12" />
<line x1="764.5" y1="543" x2="764.5" y2="569" stroke="#111" stroke-width="1.12" />
<line x1="767" y1="543" x2="767" y2="569" stroke="#111" stroke-width="1.12" />
<line x1="769.5" y1="543" x2="769.5" y2="569" stroke="#111" stroke-width="2.31" />
<rect x="134.1" y="482.6" width="115.9" height="38.3" stroke="#111" stroke-width="1.46" fill="#fff" />
<line x1="172.7" y1="482.6" x2="172.7" y2="520.9" stroke="#111" stroke-width="2.1" />
<line x1="211.2" y1="482.6" x2="211.2" y2="520.9" stroke="#111" stroke-width="2.1" />
<line x1="249" y1="482.6" x2="249" y2="520.9" stroke="#111" stroke-width="2.52" />
<line x1="134.1" y1="484.5" x2="250" y2="484.5" stroke="#111" stroke-width="1.01" />
<ellipse cx="267.1" cy="503.4" rx="12.2" ry="15.3" stroke="#111" stroke-width="2.1" fill="none" />
<ellipse cx="267.1" cy="503.4" rx="10.2" ry="13.3" stroke="#111" stroke-width="1.01" fill="none" />
<rect x="280" y="500.5" width="8.8" height="5.0" stroke="#111" stroke-width="1.34" fill="none" />
<path d="M249.6,530 Q249.6,522.4 256,522.4 L275,522.4 Q281.6,522.4 281.6,530 L281.6,614 Q281.6,630 266.6,639.7 Q249.6,630 249.6,614 Z" stroke="#111" stroke-width="1.1" fill="#fff"/>
<path d="M252,536 Q252,530 258,530 L273,530 Q279,530 279,536" stroke="#111" stroke-width="1" fill="none"/>
<path d="M253.8,620 L253.8,547 Q253.8,543 257,543 L274,543 Q277.8,543 277.8,547 L277.8,620" stroke="#111" stroke-width="1" fill="none"/>
<line x1="257.5" y1="546" x2="257.5" y2="617" stroke="#111" stroke-width="1.12" />
<line x1="274.2" y1="546" x2="274.2" y2="617" stroke="#111" stroke-width="1.12" />
<rect x="258" y="526" width="17.0" height="9.5" stroke="#111" stroke-width="1.79" fill="none" />
<line x1="261.5" y1="526" x2="261.5" y2="601" stroke="#111" stroke-width="1.34" />
<line x1="264.5" y1="526" x2="264.5" y2="601" stroke="#111" stroke-width="1.34" />
<line x1="268" y1="526" x2="268" y2="601" stroke="#111" stroke-width="1.34" />
<line x1="271" y1="526" x2="271" y2="601" stroke="#111" stroke-width="1.34" />
<line x1="254" y1="570" x2="278" y2="570" stroke="#111" stroke-width="1.12" />
<line x1="254" y1="572.5" x2="278" y2="572.5" stroke="#111" stroke-width="1.12" />
<line x1="257" y1="543.5" x2="275" y2="543.5" stroke="#111" stroke-width="2.1" />
<path d="M259.5,597 Q266,593 272.5,597 L272.5,602 L259.5,602 Z" stroke="#111" stroke-width="1" fill="none"/>
<rect x="138.5" y="559.4" width="40.2" height="46.4" stroke="#111" stroke-width="1.34" fill="none" />
<line x1="139" y1="604.8" x2="177" y2="560.9" stroke="#111" stroke-width="1.12" />
<rect x="170.5" y="572" width="5.0" height="22.6" stroke="#111" stroke-width="1.12" fill="#fff" />
<line x1="177.5" y1="570" x2="177.5" y2="597.6" stroke="#111" stroke-width="2.31" />
<rect x="138.5" y="605.8" width="40.2" height="46.5" stroke="#111" stroke-width="1.34" fill="none" />
<line x1="139" y1="651.3" x2="177" y2="607.3" stroke="#111" stroke-width="1.12" />
<rect x="170.5" y="619.8" width="5.0" height="20.8" stroke="#111" stroke-width="1.12" fill="#fff" />
<line x1="177.5" y1="617.8" x2="177.5" y2="643.6" stroke="#111" stroke-width="2.31" />
<line x1="138.5" y1="605.8" x2="178.7" y2="605.8" stroke="#111" stroke-width="2.1" />
<line x1="139.5" y1="559.4" x2="139.5" y2="652.3" stroke="#111" stroke-width="2.1" />
<rect x="294.4" y="485.8" width="87.6" height="6.1" rx="1.5" stroke="#111" stroke-width="1.1" fill="#fff"/>
<rect x="304.7" y="499.5" width="27.1" height="5.0" stroke="#111" stroke-width="1.57" fill="#fff" />
<line x1="305.5" y1="502" x2="331" y2="502" stroke="#111" stroke-width="1.12" />
<rect x="306" y="504.5" width="24.5" height="3.0" stroke="#111" stroke-width="1.34" fill="none" />
<path d="M318.3,507.5 C304,507.5 302,518 304.5,530 C306,540 312,543.5 318.3,543.5 C324.6,543.5 330.6,540 332.1,530 C334.6,518 332.6,507.5 318.3,507.5 Z" stroke="#111" stroke-width="2.0" fill="none"/>
<path d="M312,511 L312,532 Q312,538 318.3,538 Q324.6,538 324.6,532 L324.6,511" stroke="#111" stroke-width="1.8" fill="none"/>
<line x1="310" y1="510" x2="327" y2="510" stroke="#111" stroke-width="1.68" />
<path d="M336.5,584 C333,575 334,563 340,560 Q354,555 368,560 C374,563 375,575 372.5,584 Z" stroke="#111" stroke-width="1.2" fill="none"/>
<path d="M338.5,583 C336,575 337,566 342,563 Q354,559 366,563 C371,566 372,575 370,583" stroke="#111" stroke-width="0.9" fill="none"/>
<rect x="325.5" y="587.8" width="52" height="4.6" rx="2" fill="#444" stroke="#111" stroke-width="0.8"/>
<line x1="354.6" y1="578.5" x2="354.6" y2="593.6" stroke="#111" stroke-width="3.78" stroke-linecap="round"/>
<rect x="136.5" y="695.9" width="247.5" height="38.7" stroke="#111" stroke-width="1.46" fill="none" />
<line x1="177.9" y1="695.9" x2="177.9" y2="734.6" stroke="#111" stroke-width="2.02" />
<line x1="218.2" y1="695.9" x2="218.2" y2="734.6" stroke="#111" stroke-width="2.02" />
<line x1="260.6" y1="695.9" x2="260.6" y2="734.6" stroke="#111" stroke-width="2.02" />
<line x1="301.3" y1="695.9" x2="301.3" y2="734.6" stroke="#111" stroke-width="2.02" />
<line x1="341.7" y1="695.9" x2="341.7" y2="734.6" stroke="#111" stroke-width="2.02" />
<line x1="343.5" y1="695.9" x2="343.5" y2="734.6" stroke="#111" stroke-width="1.12" />
<line x1="136.5" y1="734.2" x2="384" y2="734.2" stroke="#111" stroke-width="2.1" />
<line x1="381" y1="697" x2="381" y2="734.6" stroke="#111" stroke-width="1.12" />
<rect x="624" y="583.8" width="46.3" height="46.4" stroke="#111" stroke-width="1.34" fill="none" />
<line x1="624" y1="622.4" x2="670.3" y2="622.4" stroke="#111" stroke-width="1.12" />
<line x1="624" y1="626.9" x2="670.3" y2="626.9" stroke="#111" stroke-width="1.12" />
<line x1="624" y1="585" x2="624" y2="630.2" stroke="#111" stroke-width="1.12" />
<rect x="670.3" y="583.8" width="43.1" height="46.4" stroke="#111" stroke-width="1.57" fill="none" />
<line x1="670.3" y1="602.6" x2="713.4" y2="602.6" stroke="#111" stroke-width="1.12" />
<line x1="670.3" y1="622.4" x2="713.4" y2="622.4" stroke="#111" stroke-width="1.12" />
<line x1="671" y1="583.8" x2="671" y2="630.2" stroke="#111" stroke-width="3.15" />
<rect x="713.4" y="585" width="46.3" height="43.5" stroke="#111" stroke-width="1.46" fill="none" />
<rect x="715.6" y="589.3" width="41.9" height="36.5" stroke="#111" stroke-width="1.12" fill="none" />
<rect x="669.2" y="630.2" width="44.2" height="20.9" stroke="#111" stroke-width="1.46" fill="none" />
<rect x="681.4" y="626.2" width="17.6" height="4.0" stroke="#111" stroke-width="0" fill="#111" />
<rect x="682.5" y="651.1" width="16.5" height="3.1" stroke="#111" stroke-width="1.12" fill="#ccc" />
<rect x="604.1" y="590" width="83.9" height="4.9" rx="2" stroke="#111" stroke-width="1.0" fill="#fff"/>
<line x1="623" y1="598" x2="628" y2="598" stroke="#111" stroke-width="1.12" />
<line x1="762" y1="584" x2="762" y2="629" stroke="#111" stroke-width="2.31" />
<line x1="758.5" y1="588" x2="758.5" y2="627" stroke="#111" stroke-width="1.12" />
<polyline points="762.0,628.7 797.1,661.8 842.8,662.3" stroke="#111" stroke-width="2.73" fill="none" />
<line x1="764" y1="629.5" x2="799" y2="660" stroke="#111" stroke-width="1.12" />
<line x1="764" y1="584.5" x2="801.2" y2="661.2" stroke="#111" stroke-width="1.12" />
<line x1="764" y1="584.5" x2="840.3" y2="661.2" stroke="#111" stroke-width="1.12" />
<line x1="842.8" y1="584" x2="842.8" y2="801" stroke="#111" stroke-width="3.36" />
<rect x="797" y="662.3" width="44.5" height="90.1" stroke="#111" stroke-width="1.79" fill="none" />
<line x1="798" y1="664.5" x2="841" y2="664.5" stroke="#111" stroke-width="1.12" />
<line x1="798" y1="668.8" x2="841" y2="668.8" stroke="#111" stroke-width="1.12" />
<line x1="799.5" y1="669" x2="799.5" y2="752" stroke="#111" stroke-width="1.12" />
<path d="M803,674 Q803,671 806,671 L832,671 Q835,671 835,674 L835,704 Q835,708 831,708 L807,708 Q803,708 803,704 Z" stroke="#111" stroke-width="1.1" fill="none"/>
<rect x="817" y="678" width="3.0" height="3.0" stroke="#111" stroke-width="1.12" fill="none" />
<line x1="805" y1="674" x2="835" y2="748" stroke="#111" stroke-width="1.12" />
<line x1="838" y1="669" x2="838" y2="752" stroke="#111" stroke-width="3.68" />
<line x1="797" y1="750" x2="841" y2="750" stroke="#111" stroke-width="2.1" />
<rect x="796.9" y="752.4" width="46.6" height="48.1" stroke="#111" stroke-width="2.52" fill="none" />
<rect x="802" y="757.5" width="38.6" height="40.1" stroke="#111" stroke-width="1.46" fill="none" />
<rect x="795.4" y="769" width="2.2" height="14.7" stroke="#111" stroke-width="0" fill="#111" />
<rect x="799" y="800.5" width="43.8" height="44.5" stroke="#111" stroke-width="1.23" fill="none" />
<line x1="802" y1="800.5" x2="802" y2="845" stroke="#111" stroke-width="1.12" />
<line x1="838.4" y1="800.5" x2="838.4" y2="845" stroke="#111" stroke-width="1.12" />
<line x1="845" y1="800" x2="845" y2="845" stroke="#111" stroke-width="1.57" stroke-dasharray="2.5 1.5"/>
<rect x="787.4" y="845" width="59.0" height="23.2" stroke="#111" stroke-width="2.52" fill="none" />
<rect x="799.8" y="845.5" width="8.0" height="22.2" stroke="#111" stroke-width="0" fill="#111" />
<line x1="824.5" y1="845" x2="824.5" y2="868.2" stroke="#111" stroke-width="1.12" />
<line x1="828.2" y1="845" x2="828.2" y2="868.2" stroke="#111" stroke-width="1.12" />
<rect x="783" y="849.3" width="4.4" height="17.5" stroke="#111" stroke-width="1.46" fill="#fff" />
<rect x="791" y="868.2" width="43.7" height="42.3" stroke="#111" stroke-width="1.34" fill="none" />
<line x1="792.1" y1="868.2" x2="792.1" y2="911" stroke="#111" stroke-width="2.52" />
<line x1="834.4" y1="868.2" x2="834.4" y2="911" stroke="#111" stroke-width="2.52" />
<line x1="796.9" y1="869" x2="796.9" y2="910.5" stroke="#111" stroke-width="1.12" />
<line x1="797.6" y1="869.7" x2="833.3" y2="909" stroke="#111" stroke-width="1.12" />
<rect x="788" y="882.8" width="3.0" height="16.0" stroke="#111" stroke-width="0" fill="#111" />
<rect x="623.75" y="743.75" width="28.8" height="37.5" stroke="#111" stroke-width="2.02" fill="#fff" />
<rect x="624.5" y="748.75" width="27.3" height="9.4" stroke="#111" stroke-width="0" fill="#111" />
<line x1="623.75" y1="763" x2="652.5" y2="763" stroke="#111" stroke-width="1.12" />
<rect x="623.75" y="850" width="28.8" height="36.9" stroke="#111" stroke-width="2.02" fill="#fff" />
<rect x="624.5" y="873.1" width="27.3" height="9.4" stroke="#111" stroke-width="0" fill="#111" />
<line x1="623.75" y1="868" x2="652.5" y2="868" stroke="#111" stroke-width="1.12" />
<rect x="585" y="784.4" width="38.8" height="29.4" stroke="#111" stroke-width="2.02" fill="#fff" />
<rect x="591.9" y="785.1999999999999" width="8.1" height="27.8" stroke="#111" stroke-width="0" fill="#111" />
<line x1="589.5" y1="784.4" x2="589.5" y2="813.75" stroke="#111" stroke-width="1.12" />
<line x1="604.5" y1="784.4" x2="604.5" y2="813.75" stroke="#111" stroke-width="1.12" />
<rect x="651.25" y="784.4" width="38.8" height="29.4" stroke="#111" stroke-width="2.02" fill="#fff" />
<rect x="676.25" y="785.1999999999999" width="7.5" height="27.8" stroke="#111" stroke-width="0" fill="#111" />
<line x1="685.5" y1="784.4" x2="685.5" y2="813.75" stroke="#111" stroke-width="1.12" />
<line x1="671.5" y1="784.4" x2="671.5" y2="813.75" stroke="#111" stroke-width="1.12" />
<rect x="585" y="816.9" width="38.8" height="29.4" stroke="#111" stroke-width="2.02" fill="#fff" />
<rect x="591.9" y="817.6999999999999" width="8.1" height="27.8" stroke="#111" stroke-width="0" fill="#111" />
<line x1="589.5" y1="816.9" x2="589.5" y2="846.25" stroke="#111" stroke-width="1.12" />
<line x1="604.5" y1="816.9" x2="604.5" y2="846.25" stroke="#111" stroke-width="1.12" />
<rect x="651.25" y="816.9" width="38.8" height="29.4" stroke="#111" stroke-width="2.02" fill="#fff" />
<rect x="676.25" y="817.6999999999999" width="7.5" height="27.8" stroke="#111" stroke-width="0" fill="#111" />
<line x1="685.5" y1="816.9" x2="685.5" y2="846.25" stroke="#111" stroke-width="1.12" />
<line x1="671.5" y1="816.9" x2="671.5" y2="846.25" stroke="#111" stroke-width="1.12" />
<ellipse cx="637.8" cy="813.4" rx="32.8" ry="51.6" stroke="#111" stroke-width="2.94" fill="none" />
<line x1="605.0" y1="813.4" x2="606.8" y2="813.4" stroke="#111" stroke-width="0" />
<rect x="623.75" y="781.25" width="28.8" height="68.8" stroke="#111" stroke-width="2.02" fill="#fff" />
<path d="M608.9,773.25 l6,0 l0,3 l-3,0 l0,3 l-3,0 z" stroke="#111" stroke-width="1.3" fill="#444"/>
<path d="M665.5,773.25 l-6,0 l0,3 l3,0 l0,3 l3,0 z" stroke="#111" stroke-width="1.3" fill="#444"/>
<path d="M608.9,855.5 l6,0 l0,-3 l-3,0 l0,-3 l-3,0 z" stroke="#111" stroke-width="1.3" fill="#444"/>
<path d="M665.5,855.5 l-6,0 l0,-3 l3,0 l0,-3 l3,0 z" stroke="#111" stroke-width="1.3" fill="#444"/>
<rect x="571.5" y="783" width="2.9" height="63.0" stroke="#111" stroke-width="1.23" fill="#fff" />
<line x1="212" y1="742.5" x2="212" y2="814.4" stroke="#111" stroke-width="1.23" />
<line x1="237.3" y1="742.5" x2="237.3" y2="814.4" stroke="#111" stroke-width="1.23" />
<line x1="240.3" y1="742.5" x2="240.3" y2="814.4" stroke="#111" stroke-width="1.46" />
<line x1="262.1" y1="742.5" x2="262.1" y2="814.4" stroke="#111" stroke-width="1.23" />
<line x1="265.1" y1="742.5" x2="265.1" y2="814.4" stroke="#111" stroke-width="1.46" />
<line x1="286.7" y1="742.5" x2="286.7" y2="814.4" stroke="#111" stroke-width="1.23" />
<line x1="289.7" y1="742.5" x2="289.7" y2="814.4" stroke="#111" stroke-width="1.46" />
<line x1="310.3" y1="742.5" x2="310.3" y2="814.4" stroke="#111" stroke-width="1.23" />
<line x1="313.3" y1="742.5" x2="313.3" y2="814.4" stroke="#111" stroke-width="1.46" />
<line x1="334.8" y1="742.5" x2="334.8" y2="814.4" stroke="#111" stroke-width="1.23" />
<line x1="337.8" y1="742.5" x2="337.8" y2="814.4" stroke="#111" stroke-width="1.46" />
<line x1="358.9" y1="742.5" x2="358.9" y2="814.4" stroke="#111" stroke-width="1.23" />
<line x1="361.9" y1="742.5" x2="361.9" y2="814.4" stroke="#111" stroke-width="1.46" />
<line x1="383.0" y1="742.5" x2="383.0" y2="814.4" stroke="#111" stroke-width="1.23" />
<line x1="386.0" y1="742.5" x2="386.0" y2="814.4" stroke="#111" stroke-width="1.46" />
<line x1="407.5" y1="741.7" x2="407.5" y2="815" stroke="#111" stroke-width="1.79" />
<line x1="386" y1="741.9" x2="407.5" y2="741.9" stroke="#111" stroke-width="1.46" />
<line x1="209.9" y1="831" x2="209.9" y2="904.7" stroke="#111" stroke-width="1.23" />
<line x1="212.9" y1="831" x2="212.9" y2="904.7" stroke="#111" stroke-width="1.46" />
<line x1="233.0" y1="831" x2="233.0" y2="904.7" stroke="#111" stroke-width="1.23" />
<line x1="236.0" y1="831" x2="236.0" y2="904.7" stroke="#111" stroke-width="1.46" />
<line x1="257.4" y1="831" x2="257.4" y2="904.7" stroke="#111" stroke-width="1.23" />
<line x1="260.4" y1="831" x2="260.4" y2="904.7" stroke="#111" stroke-width="1.46" />
<line x1="280.5" y1="831" x2="280.5" y2="904.7" stroke="#111" stroke-width="1.23" />
<line x1="283.5" y1="831" x2="283.5" y2="904.7" stroke="#111" stroke-width="1.46" />
<line x1="304.5" y1="831" x2="304.5" y2="904.7" stroke="#111" stroke-width="1.23" />
<line x1="307.5" y1="831" x2="307.5" y2="904.7" stroke="#111" stroke-width="1.46" />
<line x1="328.6" y1="831" x2="328.6" y2="904.7" stroke="#111" stroke-width="1.23" />
<line x1="331.6" y1="831" x2="331.6" y2="904.7" stroke="#111" stroke-width="1.46" />
<line x1="352.7" y1="831" x2="352.7" y2="904.7" stroke="#111" stroke-width="1.23" />
<line x1="355.7" y1="831" x2="355.7" y2="904.7" stroke="#111" stroke-width="1.46" />
<line x1="376.7" y1="831" x2="376.7" y2="904.7" stroke="#111" stroke-width="1.23" />
<line x1="379.7" y1="831" x2="379.7" y2="904.7" stroke="#111" stroke-width="1.46" />
<line x1="235.5" y1="831" x2="235.5" y2="904.7" stroke="#111" stroke-width="1.12" />
<line x1="403.4" y1="831" x2="403.4" y2="904.7" stroke="#111" stroke-width="1.23" />
<line x1="136" y1="904.7" x2="404" y2="904.7" stroke="#111" stroke-width="1.46" />
<rect x="208.3" y="814.8" width="198.9" height="6.4" stroke="#111" stroke-width="2.02" fill="#fff" />
<line x1="211" y1="818.0" x2="405" y2="818.0" stroke="#333" stroke-width="1.34" stroke-dasharray="6 3"/>
<rect x="208.3" y="826" width="198.9" height="4.9" stroke="#111" stroke-width="2.02" fill="#fff" />
<line x1="211" y1="828.45" x2="405" y2="828.45" stroke="#333" stroke-width="1.34" stroke-dasharray="6 3"/>
<rect x="208.3" y="814.8" width="3.7" height="16.1" stroke="#111" stroke-width="1.79" fill="#fff" />
<polyline points="135.2,911 135.2,742.3 384.2,742.3 384.2,820" stroke="#2a2a9a" stroke-width="1.2" fill="none"/>
<line x1="384.2" y1="745" x2="384.2" y2="818" stroke="#fff" stroke-width="1.23" stroke-dasharray="2 3"/>
<line x1="385.6" y1="745" x2="385.6" y2="815" stroke="#111" stroke-width="1.12" />
<line x1="136.5" y1="911.2" x2="428" y2="911.2" stroke="#2a2a9a" stroke-width="1.46" />
<polyline points="407.2,829.3 428.1,829.3 428.1,909.5" stroke="#2a2a9a" stroke-width="1.1" fill="none" stroke-dasharray="3 2.5"/>
<rect x="400.8" y="909.5" width="27.2" height="17.5" stroke="#111" stroke-width="1.34" fill="#fff" />
<rect x="401.5" y="910.5" width="26" height="15.5" fill="url(#h)"/>
<text x="411" y="758.4" font-size="23" fill="#111" text-anchor="start" font-style="italic" textLength="72" lengthAdjust="spacingAndGlyphs" stroke="#111" stroke-width="0.35">16 Stg.</text>
<text x="410.5" y="790" font-size="23" fill="#111" text-anchor="start" font-style="italic" textLength="100" lengthAdjust="spacingAndGlyphs" stroke="#111" stroke-width="0.35">17.5/30.8</text>
<path d="M400,927.5 L428,927.5 Q438,930 438,945 L438,952 Q438,961 430,961.3 L400,961.3 Z" stroke="#111" stroke-width="1.2" fill="#fff"/>
<rect x="401" y="929" width="15.0" height="11.6" stroke="#111" stroke-width="0" fill="#222" />
<rect x="402" y="940.6" width="8.0" height="10.4" stroke="#111" stroke-width="1.23" fill="none" />
<rect x="402" y="951" width="10.0" height="7.0" stroke="#111" stroke-width="1.12" fill="none" />
<rect x="416" y="930" width="11.0" height="13.0" stroke="#111" stroke-width="1.12" fill="none" />
<rect x="402.5" y="956.3" width="28.8" height="106.2" stroke="#111" stroke-width="2.31" fill="none" />
<line x1="416.9" y1="958.8" x2="416.9" y2="1016.3" stroke="#111" stroke-width="3.36" />
<line x1="402.5" y1="1016.3" x2="431.3" y2="1016.3" stroke="#111" stroke-width="3.15" />
<line x1="405" y1="958" x2="405" y2="1062" stroke="#111" stroke-width="1.12" />
<line x1="428.7" y1="958" x2="428.7" y2="1062" stroke="#111" stroke-width="1.12" />
<line x1="399.5" y1="962" x2="399.5" y2="1063" stroke="#111" stroke-width="1.12" />
<line x1="403" y1="958" x2="431" y2="958" stroke="#111" stroke-width="2.52" />
<rect x="657.5" y="927.5" width="15.4" height="155.5" fill="url(#hl)" stroke="#b5b5b5" stroke-width="1"/>
<rect x="595.8" y="1067" width="77.1" height="16" fill="url(#hl)" stroke="#b5b5b5" stroke-width="1"/>
<rect x="658.5" y="1067.5" width="13.5" height="14.5" fill="url(#hl)"/>
<polyline points="673.5,928 673.5,1074.5 761.6,1074.5 761.6,928" stroke="#222" stroke-width="1.1" fill="none" stroke-dasharray="3 2"/>
<line x1="700.5" y1="928" x2="700.5" y2="1074" stroke="#b5b5b5" stroke-width="1.12" />
<line x1="704" y1="928" x2="704" y2="1074" stroke="#b5b5b5" stroke-width="1.12" />
<line x1="725.3" y1="928" x2="725.3" y2="1074" stroke="#b5b5b5" stroke-width="1.12" />
<line x1="729" y1="928" x2="729" y2="1074" stroke="#b5b5b5" stroke-width="1.12" />
<line x1="732.5" y1="928" x2="732.5" y2="1074" stroke="#b5b5b5" stroke-width="1.12" />
<line x1="758.7" y1="928" x2="758.7" y2="1074" stroke="#b5b5b5" stroke-width="1.12" />
<line x1="762.2" y1="928" x2="762.2" y2="1074" stroke="#b5b5b5" stroke-width="1.12" />
<ellipse cx="664.2" cy="1074" rx="7.3" ry="7.3" stroke="#222" stroke-width="1.46" fill="#fff" />
<line x1="658.5" y1="1079" x2="670" y2="1069" stroke="#444" stroke-width="1.12" />
<text x="760" y="988.7" font-size="23" fill="#b0b0b0" text-anchor="start" font-style="italic" textLength="62" lengthAdjust="spacingAndGlyphs">4 Stg.</text>
<text x="761" y="1020.7" font-size="23" fill="#b0b0b0" text-anchor="start" font-style="italic" textLength="80" lengthAdjust="spacingAndGlyphs">15/37.3</text>
<line x1="842" y1="1013" x2="846" y2="1013" stroke="#aaa" stroke-width="1.12" />
<line x1="62.4" y1="917" x2="62.4" y2="1090.7" stroke="#111" stroke-width="1.57" />
<line x1="47" y1="925.5" x2="76.7" y2="925.5" stroke="#111" stroke-width="1.68" />
<line x1="47" y1="1081.7" x2="76.7" y2="1081.7" stroke="#111" stroke-width="1.68" />
<line x1="60" y1="922" x2="65" y2="928" stroke="#111" stroke-width="1.12" />
<line x1="60" y1="1079" x2="65" y2="1084" stroke="#111" stroke-width="1.12" />
<path d="M38.3,994.4 L47.8,994.4 A3.75,3.75 0 0 1 47.8,1001.9 L38.3,1001.9 M38.3,1005.5 L47.8,1005.5 A3.85,3.85 0 0 1 47.8,1013.2 L38.3,1013.2 M50,1022.8 L50,1030.4 L40.5,1024.2 Q39,1023.5 38.6,1024.5" stroke="#222" stroke-width="1.6" fill="none"/>
<rect x="48.9" y="1017.3" width="2" height="2" fill="#222"/><rect x="38" y="1029.8" width="1.6" height="1.6" fill="#444"/>
<line x1="112" y1="1152.8" x2="253" y2="1152.8" stroke="#111" stroke-width="1.57" />
<line x1="253" y1="1152.3" x2="868.7" y2="1152.3" stroke="#111" stroke-width="1.57" />
<line x1="121" y1="1138.7" x2="121" y2="1168" stroke="#111" stroke-width="1.79" />
<line x1="382.7" y1="1137.5" x2="382.7" y2="1156.3" stroke="#111" stroke-width="2.52" />
<line x1="595" y1="1138" x2="595" y2="1155" stroke="#111" stroke-width="2.31" />
<line x1="859.5" y1="1138" x2="859.5" y2="1167" stroke="#111" stroke-width="1.68" />
<line x1="664.7" y1="1117.7" x2="868.7" y2="1117.7" stroke="#111" stroke-width="1.57" />
<line x1="673.6" y1="1104" x2="673.6" y2="1131" stroke="#111" stroke-width="1.68" />
<line x1="860" y1="1104" x2="860" y2="1131" stroke="#111" stroke-width="1.68" />
<text x="225.3" y="1136" font-size="21" fill="#111" text-anchor="start" textLength="38.5" lengthAdjust="spacingAndGlyphs" stroke="#111" stroke-width="0.4">3.40</text>
<text x="460.5" y="1137" font-size="21" fill="#222" text-anchor="start" textLength="37.5" lengthAdjust="spacingAndGlyphs">2.75</text>
<text x="737.8" y="1104" font-size="21" fill="#222" text-anchor="start" textLength="38" lengthAdjust="spacingAndGlyphs">2.42</text>
<text x="697.8" y="1138.2" font-size="21" fill="#222" text-anchor="start" textLength="38" lengthAdjust="spacingAndGlyphs">3.40</text>
<line x1="523.2" y1="32.3" x2="528.4" y2="32.3" stroke="#111" stroke-width="1.79" />
<filter id="wb3" x="-20%" y="-50%" width="140%" height="200%"><feGaussianBlur stdDeviation="3"/></filter>
<filter id="wb1" x="-20%" y="-20%" width="140%" height="140%"><feGaussianBlur stdDeviation="1"/></filter>
<filter id="wb2" x="-20%" y="-30%" width="140%" height="160%"><feGaussianBlur stdDeviation="2.2"/></filter>
<filter id="wb15" x="-20%" y="-20%" width="140%" height="140%"><feGaussianBlur stdDeviation="1.6"/></filter>
<rect x="320" y="610.5" width="356" height="3.5" fill="#000" opacity="0.28" filter="url(#wb1)"/>
<rect x="675" y="536" width="3" height="77" fill="#000" opacity="0.15" filter="url(#wb1)"/>
<rect x="316" y="532" width="360" height="80.5" fill="#a0a0a0" opacity="0.40" filter="url(#wb15)"/>
<g fill="#707070" opacity="0.33" filter="url(#wb1)">
<rect x="353.3" y="534.3" width="4.3" height="63"/>
<rect x="365.3" y="534.3" width="4.6" height="28"/>
<rect x="365.3" y="567" width="4.6" height="30"/>
<rect x="407.4" y="534.3" width="5" height="62.5"/>
<rect x="420" y="534.3" width="5.2" height="21"/>
<rect x="420" y="562" width="5.2" height="34.8"/>
<rect x="462.9" y="533.6" width="4.2" height="7.7"/>
<rect x="462.9" y="549" width="4.2" height="64"/>
<rect x="504" y="535" width="5" height="60"/>
<rect x="522.5" y="535" width="5" height="60"/>
<rect x="566.5" y="534" width="4" height="78"/>
<rect x="570" y="556" width="8" height="3"/>
<rect x="570" y="591" width="8" height="3"/>
<rect x="618" y="534" width="4" height="60"/>
<rect x="630" y="534" width="4" height="60"/>
</g>
<g fill="#fff" opacity="0.45" filter="url(#wb1)">
<rect x="357.6" y="534.3" width="2.6" height="63"/>
<rect x="369.90000000000003" y="534.3" width="2.6" height="28"/>
<rect x="369.90000000000003" y="567" width="2.6" height="30"/>
<rect x="412.4" y="534.3" width="2.6" height="62.5"/>
<rect x="425.2" y="534.3" width="2.6" height="21"/>
<rect x="425.2" y="562" width="2.6" height="34.8"/>
<rect x="467.09999999999997" y="533.6" width="2.6" height="7.7"/>
<rect x="467.09999999999997" y="549" width="2.6" height="64"/>
<rect x="509" y="535" width="2.6" height="60"/>
<rect x="527.5" y="535" width="2.6" height="60"/>
<rect x="570.5" y="534" width="2.6" height="78"/>
<rect x="578" y="556" width="2.6" height="3"/>
<rect x="578" y="591" width="2.6" height="3"/>
<rect x="622" y="534" width="2.6" height="60"/>
<rect x="634" y="534" width="2.6" height="60"/>
</g>
<path d="M508,537 L515,585 L523,537" stroke="#7a7a7a" stroke-width="4" fill="none" opacity="0.28" filter="url(#wb1)"/>
<filter id="wb4" x="-20%" y="-30%" width="140%" height="160%"><feGaussianBlur stdDeviation="1.7"/></filter>
<g filter="url(#wb4)" opacity="0.75"><text x="375.5" y="669.8" font-size="48" fill="#555" textLength="268" lengthAdjust="spacing">Real Estate</text><rect x="468" y="536" width="5" height="98" fill="#555"/></g>
<g opacity="0.85"><text x="372" y="666.5" font-size="48" fill="#e0e0e0" textLength="268" lengthAdjust="spacing">Real Estate</text><rect x="464.7" y="533" width="5" height="100" fill="#e0e0e0"/></g>
</svg></body></html>
